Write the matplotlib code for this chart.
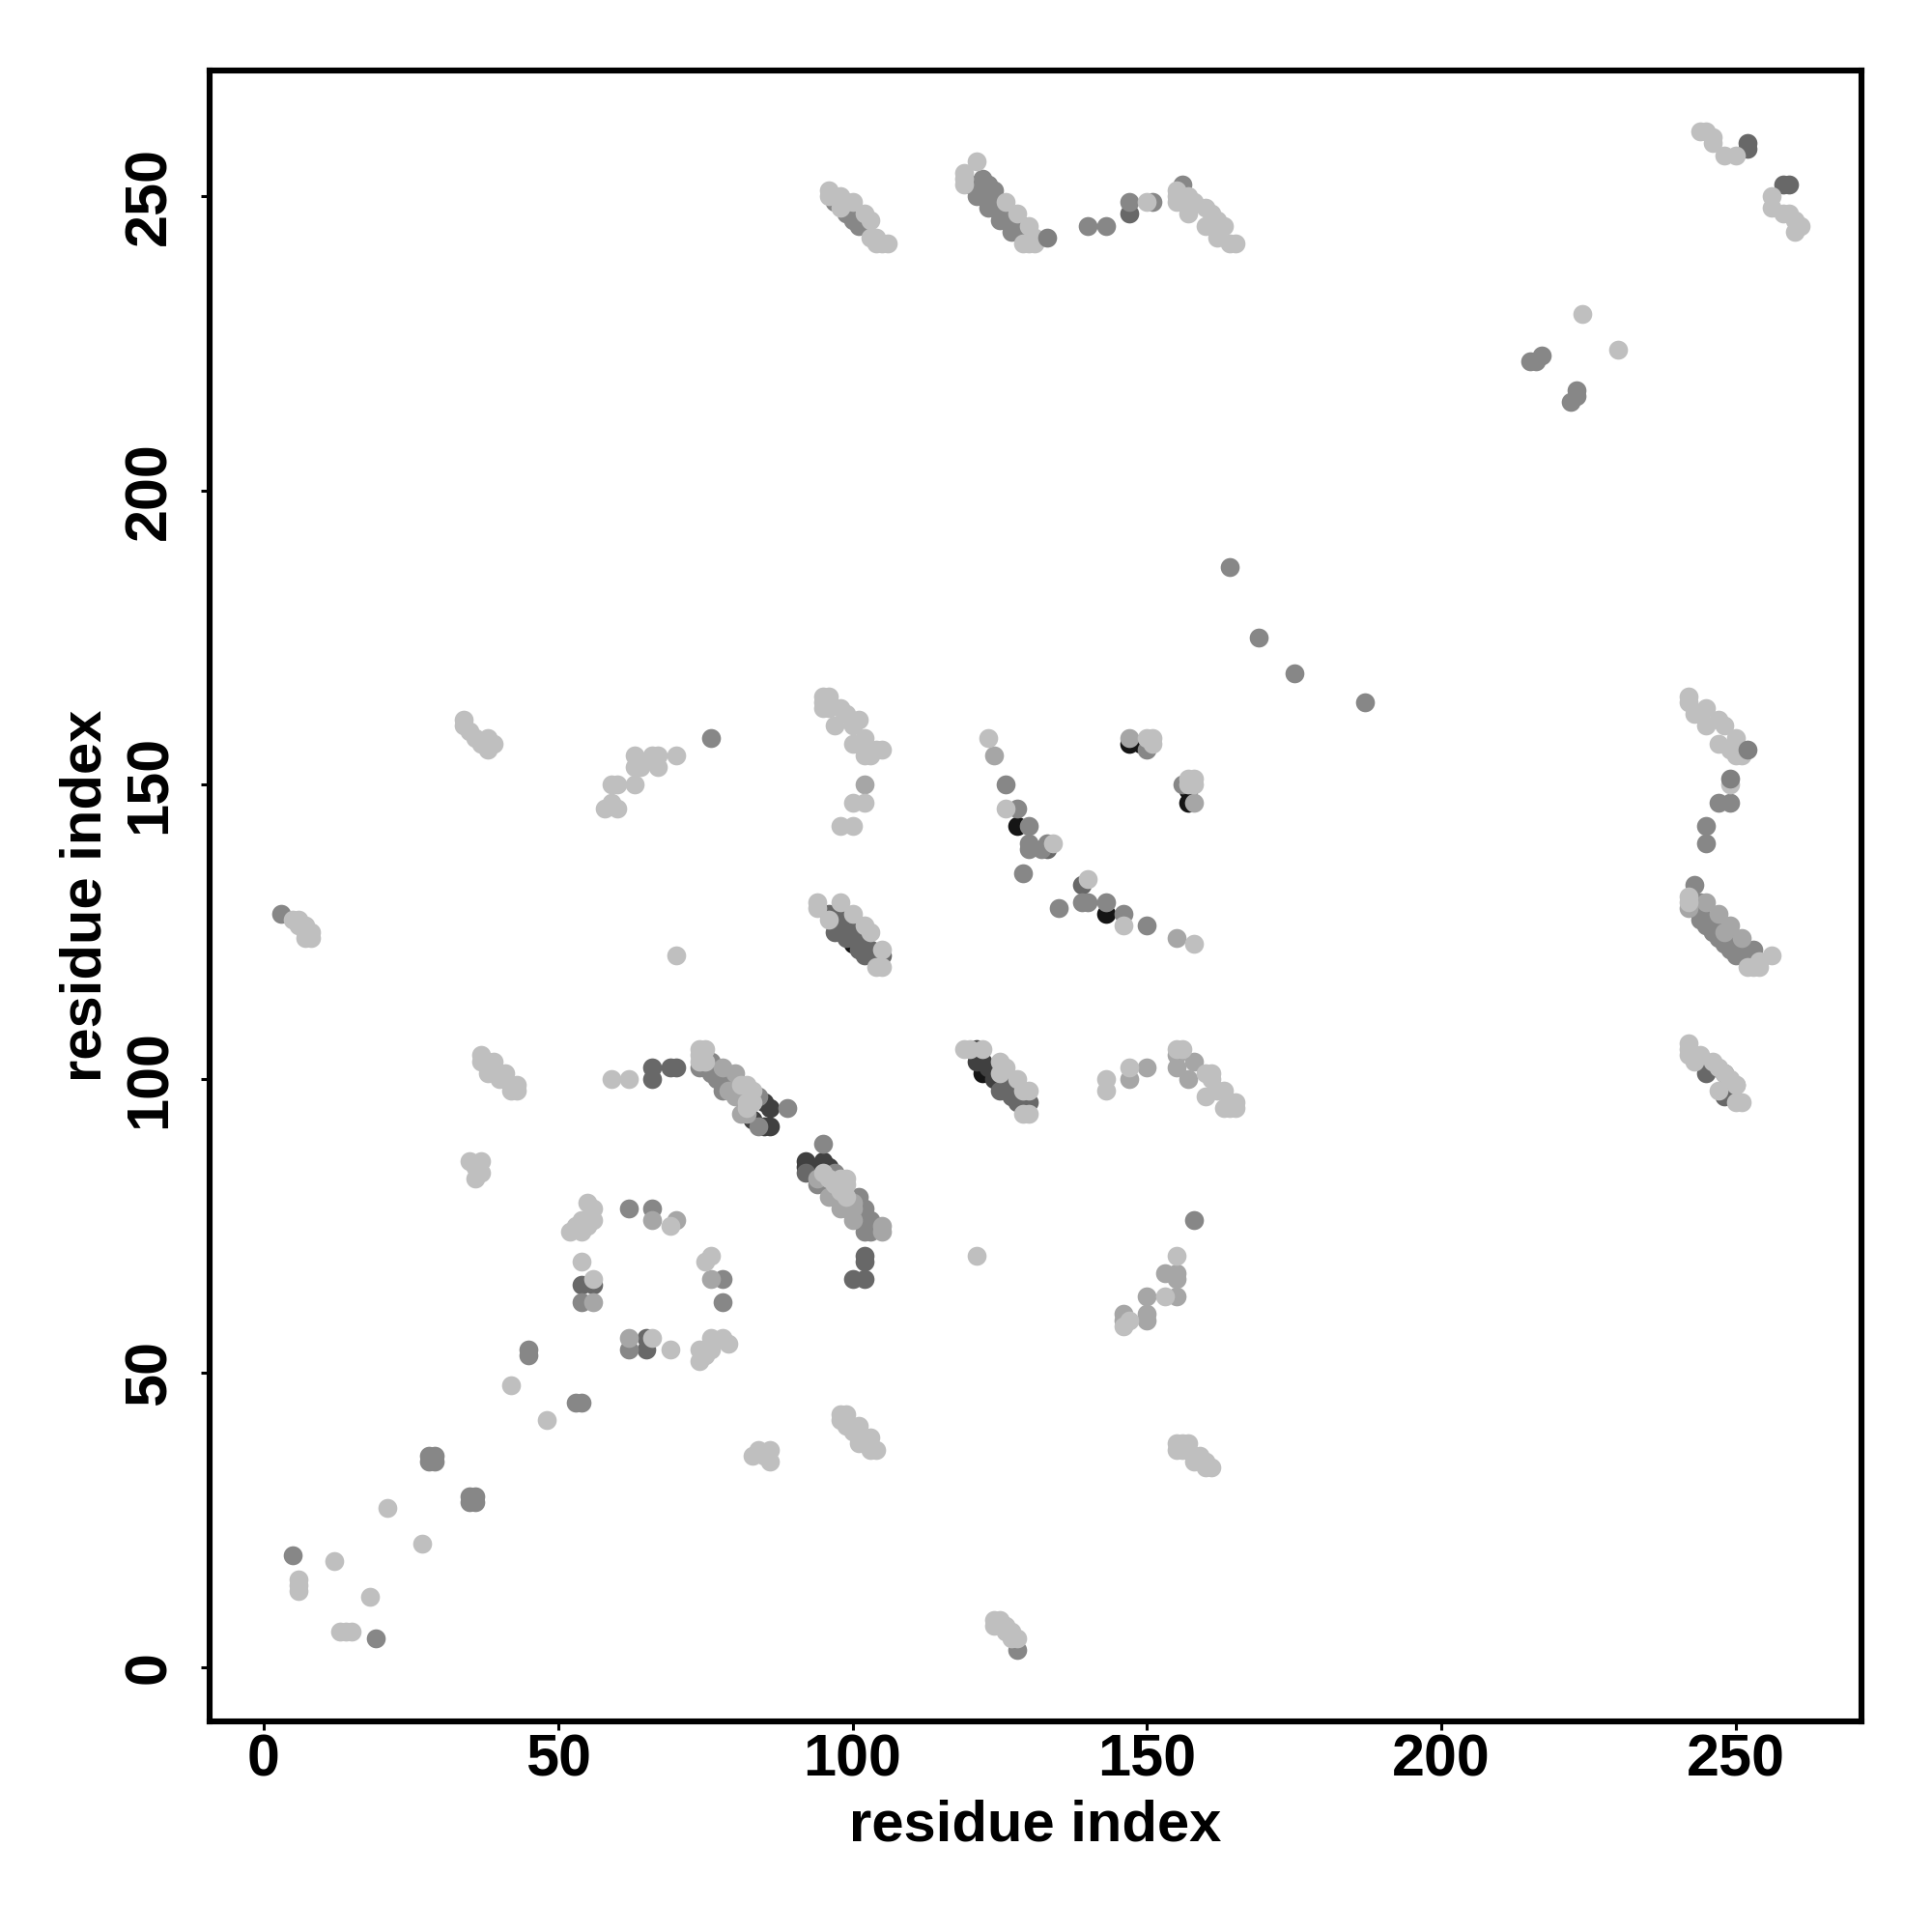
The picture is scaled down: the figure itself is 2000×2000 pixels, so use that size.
import matplotlib
matplotlib.use('Agg')
import matplotlib.pyplot as plt

plt.rcParams['font.family'] = ['Liberation Sans', 'DejaVu Sans']
plt.rcParams['font.weight'] = 'bold'

TICKS = [0, 50, 100, 150, 200, 250]
AXIS_LABEL = 'residue index'

# contacts (residue i, residue j), grouped by how dark the point is
black = [(122, 101), (128, 143), (143, 128), (147, 157), (149, 157), (157, 149), (157, 147), (100, 123)]

dark = [(83, 93), (85, 96), (86, 95), (85, 92), (86, 92), (92, 86), (92, 85), (94, 85), (95, 86), (96, 85),
        (121, 105), (121, 103), (122, 103), (123, 102), (124, 100)]

dim = [(66, 102), (66, 100), (69, 102), (70, 102), (54, 65), (56, 65), (65, 56), (65, 54), (102, 70), (102, 69),
       (100, 66), (102, 66), (92, 84), (125, 98), (127, 97), (128, 96), (130, 96), (126, 100), (127, 99), (129, 97),
       (96, 128), (97, 125), (98, 128), (101, 126), (102, 123), (102, 121), (105, 121), (97, 127), (98, 126),
       (99, 125), (99, 124), (100, 124), (101, 123), (101, 122), (103, 122), (104, 121), (103, 121), (139, 133),
       (133, 139), (147, 247), (252, 258), (252, 259), (258, 252), (259, 252), (245, 101), (248, 98), (248, 97),
       (248, 101)]

mid = [(3, 128), (5, 19), (19, 5), (28, 35), (29, 35), (28, 36), (29, 36), (35, 28), (36, 28), (35, 29), (36, 29),
       (45, 53), (45, 54), (53, 45), (54, 45), (62, 78), (66, 78), (54, 62), (78, 66), (78, 62), (62, 54),
       (76, 158), (74, 102), (75, 102), (76, 103), (76, 101), (77, 100), (78, 98), (79, 99), (81, 97), (84, 97),
       (84, 92), (89, 95), (95, 89), (97, 84), (94, 82), (101, 80), (102, 78), (103, 76), (102, 74), (103, 74),
       (102, 76), (101, 77), (104, 75), (158, 76), (128, 3), (126, 150), (128, 146), (130, 143),
       (130, 140), (130, 139), (132, 139), (133, 140), (129, 135), (135, 129), (139, 130), (140, 130),
       (143, 130), (146, 128), (150, 126), (150, 156), (156, 150), (97, 249), (99, 247), (100, 246), (101, 245),
       (122, 253), (123, 252), (120, 252), (121, 251), (122, 251), (122, 250), (123, 250), (124, 249), (124, 248),
       (125, 248), (126, 247), (126, 246), (127, 246), (128, 245), (128, 244), (129, 244), (130, 243),
       (121, 250), (123, 248), (125, 246), (127, 244), (124, 251), (129, 245), (140, 245), (143, 245),
       (147, 249), (151, 249), (156, 252), (164, 187), (169, 175), (175, 169), (187, 164), (215, 222),
       (216, 222), (217, 223), (222, 215), (223, 216), (223, 217), (247, 147), (249, 147),
       (245, 143), (245, 140), (243, 133), (244, 127), (246, 125), (248, 123), (250, 121), (253, 122), (244, 130),
       (244, 128), (245, 127), (245, 126), (246, 126), (247, 125), (247, 124), (248, 124), (249, 123), (249, 122),
       (250, 122), (251, 121), (252, 120), (251, 122), (252, 121)]

soft = [(56, 62), (62, 56), (76, 66), (70, 76), (66, 76), (150, 102), (147, 100), (150, 63), (155, 63), (150, 60),
        (150, 59), (153, 67), (155, 66), (155, 67), (124, 155), (102, 150), (147, 158), (158, 147), (155, 124),
        (146, 59), (146, 60), (157, 100), (158, 103), (155, 102), (155, 104), (98, 78), (100, 76), (100, 78),
        (105, 75), (105, 74), (80, 101), (78, 102), (79, 98), (80, 97), (81, 94), (82, 94), (94, 83), (96, 80),
        (97, 80), (98, 79), (99, 78), (100, 79), (247, 128), (245, 130), (249, 126), (251, 124), (242, 129), (250, 99),
        (248, 125)]

light = [(6, 15), (6, 14), (6, 13), (12, 18), (13, 6), (14, 6), (15, 6), (18, 12), (21, 27), (27, 21), (42, 48), (48, 42),
         (59, 100), (62, 100), (55, 79), (56, 78), (56, 76), (54, 76), (53, 75), (52, 74), (54, 74), (55, 75),
         (69, 75), (54, 69), (76, 70), (75, 69), (56, 66), (66, 56), (69, 54), (76, 56), (78, 56), (79, 55), (75, 54),
         (74, 54), (76, 54), (75, 53), (74, 52), (83, 36), (84, 37), (86, 37), (86, 35), (85, 36),
         (98, 43), (99, 43), (98, 42), (99, 41), (100, 40), (101, 41), (101, 39), (103, 39), (101, 38), (103, 37),
         (104, 37), (37, 104), (37, 103), (38, 103), (39, 103), (38, 101), (40, 100), (41, 101), (41, 100), (42, 99),
         (43, 99), (42, 98), (43, 98), (35, 86), (37, 86), (36, 85), (37, 84), (36, 83),
         (74, 105), (75, 105), (74, 104), (74, 103), (75, 103), (81, 99), (82, 99), (83, 98), (82, 96), (82, 95),
         (83, 96), (95, 84), (96, 83), (97, 82), (98, 83), (99, 83), (99, 82), (98, 81), (99, 80),
         (119, 105), (120, 105), (122, 105), (125, 103), (126, 102), (125, 101), (128, 100), (130, 98), (129, 98),
         (129, 94), (130, 94), (143, 100), (143, 98), (147, 102), (156, 105), (155, 105), (161, 101), (160, 101),
         (161, 100), (160, 97), (163, 98), (162, 98), (164, 96), (165, 96), (165, 95), (163, 95), (164, 95),
         (155, 70), (153, 63), (146, 58), (147, 59), (121, 70), (155, 38), (156, 38), (157, 38), (155, 37), (156, 37),
         (158, 36), (158, 35), (159, 36), (160, 35), (160, 34), (161, 34), (124, 8), (125, 8), (124, 7), (126, 7),
         (126, 6), (127, 6), (127, 5), (128, 5), (5, 127), (6, 127), (6, 126), (7, 126), (7, 125), (8, 125),
         (7, 124), (8, 124), (34, 161), (34, 160), (35, 159), (36, 158), (38, 158), (37, 157), (38, 156), (39, 157),
         (70, 121), (58, 146), (59, 147), (60, 146), (59, 150), (60, 150), (63, 150), (63, 155), (63, 153), (64, 153),
         (66, 155), (67, 155), (67, 153), (70, 155),
         (95, 165), (96, 165), (95, 164), (95, 163), (96, 163), (98, 163), (97, 160), (99, 162), (101, 161), (100, 160),
         (100, 157), (102, 158), (102, 155), (103, 155), (104, 156), (105, 156), (100, 147), (102, 147), (98, 143), (100, 143),
         (123, 158), (126, 146), (134, 140), (140, 134), (146, 126), (158, 123), (150, 158), (151, 158), (151, 157),
         (157, 151), (158, 151), (157, 150), (158, 150), (94, 130), (94, 129), (98, 130), (100, 128), (102, 126),
         (103, 125), (105, 122), (105, 119), (104, 119), (96, 127),
         (96, 251), (96, 250), (98, 250), (99, 249), (98, 248), (100, 249), (102, 247), (103, 246), (103, 243), (104, 243),
         (105, 242), (106, 242), (104, 242), (121, 256), (119, 254), (119, 253), (119, 252), (126, 249), (128, 247),
         (130, 245), (131, 243), (129, 242), (131, 242), (130, 242), (150, 249), (155, 251), (155, 250), (155, 249), (157, 250),
         (158, 249), (157, 247), (160, 248), (161, 247), (160, 245), (162, 246), (163, 245), (162, 243), (164, 242), (165, 242),
         (244, 261), (245, 261), (246, 260), (246, 259), (248, 257), (250, 257), (256, 250), (256, 248), (258, 247), (259, 247),
         (260, 246), (261, 245), (260, 244), (224, 230), (230, 224),
         (242, 165), (242, 164), (243, 162), (244, 162), (245, 163), (245, 160), (247, 161), (248, 160), (247, 157), (250, 158),
         (249, 156), (250, 155), (251, 155), (249, 150), (242, 131), (242, 130), (252, 119), (253, 119), (254, 120),
         (254, 119), (256, 121), (242, 106), (242, 105), (242, 104), (243, 103), (244, 104), (246, 103), (247, 102),
         (248, 101), (249, 100), (250, 99), (247, 98), (250, 96), (251, 96)]

# a few mid grey points sit on top of the lighter ones
on_top = [(252, 156), (249, 151), (133, 243)]

GROUPS = [(black, '#151515'), (dark, '#404040'), (dim, '#686868'), (mid, '#878787'), (soft, '#a6a6a6'),
          (light, '#bfbfbf'), (on_top, '#808080')]

fig = plt.figure(figsize=(10, 10), dpi=200)
ax = fig.add_axes([0.1084, 0.109, 0.8553, 0.8546])

for points, color in GROUPS:
    xs = [p[0] for p in points]
    ys = [p[1] for p in points]
    ax.scatter(xs, ys, s=50, c=color, linewidths=0, clip_on=False)

ax.set_xlim(-9.2, 271.4)
ax.set_ylim(-9.2, 271.4)
ax.set_xticks(TICKS)
ax.set_yticks(TICKS)
ax.tick_params(axis='x', length=3.2, width=1.1, labelsize=22, pad=1.2)
ax.tick_params(axis='y', length=3.2, width=1.1, labelsize=22, pad=8.5)
for label in ax.get_yticklabels():
    label.set_rotation(90)
    label.set_va('center')
for spine in ax.spines.values():
    spine.set_linewidth(2.2)
ax.set_xlabel(AXIS_LABEL, fontsize=21.5, fontweight='bold', labelpad=4)
ax.set_ylabel(AXIS_LABEL, fontsize=21.5, fontweight='bold', labelpad=4)

fig.savefig('out.png')
plt.close()
